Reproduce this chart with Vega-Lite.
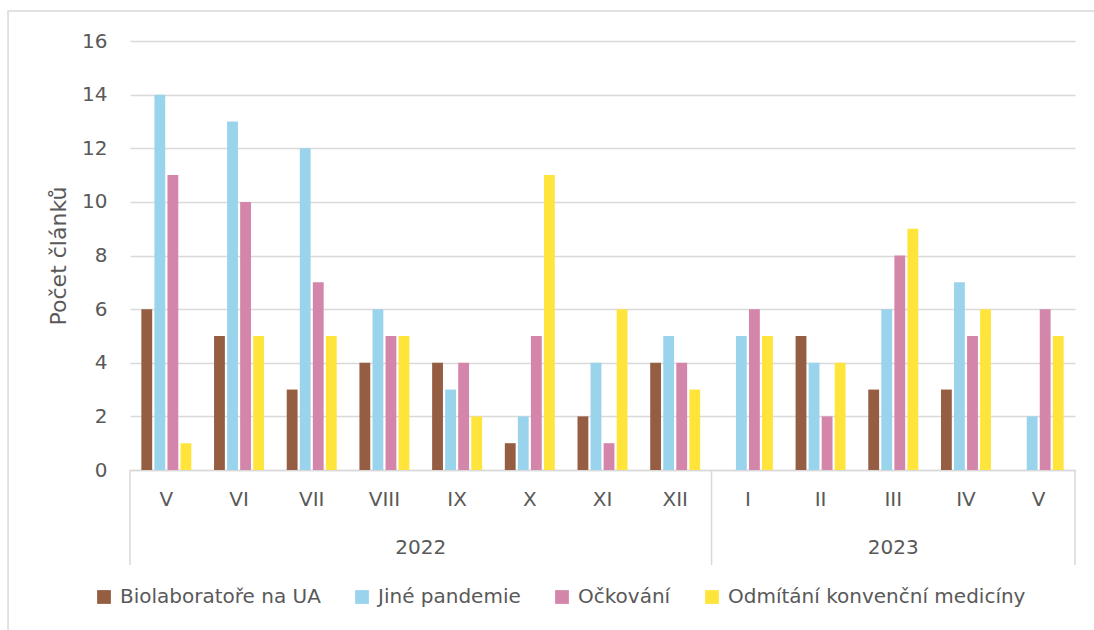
{
  "$schema": "https://vega.github.io/schema/vega-lite/v6.json",
  "autosize": "none",
  "width": 945,
  "height": 429,
  "padding": {"left": 130, "top": 41, "right": 19, "bottom": 160},
  "background": "white",
  "config": {
    "font": "DejaVu Sans",
    "view": {"stroke": null}
  },
  "layer": [
    {
      "data": {
        "values": [
          {"key": "2022-V", "series": "Biolaboratoře na UA", "value": 6},
          {"key": "2022-V", "series": "Jiné pandemie", "value": 14},
          {"key": "2022-V", "series": "Očkování", "value": 11},
          {"key": "2022-V", "series": "Odmítání konvenční medicíny", "value": 1},
          {"key": "2022-VI", "series": "Biolaboratoře na UA", "value": 5},
          {"key": "2022-VI", "series": "Jiné pandemie", "value": 13},
          {"key": "2022-VI", "series": "Očkování", "value": 10},
          {"key": "2022-VI", "series": "Odmítání konvenční medicíny", "value": 5},
          {"key": "2022-VII", "series": "Biolaboratoře na UA", "value": 3},
          {"key": "2022-VII", "series": "Jiné pandemie", "value": 12},
          {"key": "2022-VII", "series": "Očkování", "value": 7},
          {"key": "2022-VII", "series": "Odmítání konvenční medicíny", "value": 5},
          {"key": "2022-VIII", "series": "Biolaboratoře na UA", "value": 4},
          {"key": "2022-VIII", "series": "Jiné pandemie", "value": 6},
          {"key": "2022-VIII", "series": "Očkování", "value": 5},
          {"key": "2022-VIII", "series": "Odmítání konvenční medicíny", "value": 5},
          {"key": "2022-IX", "series": "Biolaboratoře na UA", "value": 4},
          {"key": "2022-IX", "series": "Jiné pandemie", "value": 3},
          {"key": "2022-IX", "series": "Očkování", "value": 4},
          {"key": "2022-IX", "series": "Odmítání konvenční medicíny", "value": 2},
          {"key": "2022-X", "series": "Biolaboratoře na UA", "value": 1},
          {"key": "2022-X", "series": "Jiné pandemie", "value": 2},
          {"key": "2022-X", "series": "Očkování", "value": 5},
          {"key": "2022-X", "series": "Odmítání konvenční medicíny", "value": 11},
          {"key": "2022-XI", "series": "Biolaboratoře na UA", "value": 2},
          {"key": "2022-XI", "series": "Jiné pandemie", "value": 4},
          {"key": "2022-XI", "series": "Očkování", "value": 1},
          {"key": "2022-XI", "series": "Odmítání konvenční medicíny", "value": 6},
          {"key": "2022-XII", "series": "Biolaboratoře na UA", "value": 4},
          {"key": "2022-XII", "series": "Jiné pandemie", "value": 5},
          {"key": "2022-XII", "series": "Očkování", "value": 4},
          {"key": "2022-XII", "series": "Odmítání konvenční medicíny", "value": 3},
          {"key": "2023-I", "series": "Biolaboratoře na UA", "value": 0},
          {"key": "2023-I", "series": "Jiné pandemie", "value": 5},
          {"key": "2023-I", "series": "Očkování", "value": 6},
          {"key": "2023-I", "series": "Odmítání konvenční medicíny", "value": 5},
          {"key": "2023-II", "series": "Biolaboratoře na UA", "value": 5},
          {"key": "2023-II", "series": "Jiné pandemie", "value": 4},
          {"key": "2023-II", "series": "Očkování", "value": 2},
          {"key": "2023-II", "series": "Odmítání konvenční medicíny", "value": 4},
          {"key": "2023-III", "series": "Biolaboratoře na UA", "value": 3},
          {"key": "2023-III", "series": "Jiné pandemie", "value": 6},
          {"key": "2023-III", "series": "Očkování", "value": 8},
          {"key": "2023-III", "series": "Odmítání konvenční medicíny", "value": 9},
          {"key": "2023-IV", "series": "Biolaboratoře na UA", "value": 3},
          {"key": "2023-IV", "series": "Jiné pandemie", "value": 7},
          {"key": "2023-IV", "series": "Očkování", "value": 5},
          {"key": "2023-IV", "series": "Odmítání konvenční medicíny", "value": 6},
          {"key": "2023-V", "series": "Biolaboratoře na UA", "value": 0},
          {"key": "2023-V", "series": "Jiné pandemie", "value": 2},
          {"key": "2023-V", "series": "Očkování", "value": 6},
          {"key": "2023-V", "series": "Odmítání konvenční medicíny", "value": 5}
        ]
      },
      "mark": {"type": "bar"},
      "encoding": {
        "x": {
          "field": "key",
          "type": "nominal",
          "scale": {
            "domain": ["2022-V", "2022-VI", "2022-VII", "2022-VIII", "2022-IX", "2022-X", "2022-XI", "2022-XII", "2023-I", "2023-II", "2023-III", "2023-IV", "2023-V"],
            "paddingInner": 0,
            "paddingOuter": 0
          },
          "axis": {
            "title": null,
            "bandPosition": 0.5,
            "labelAngle": 0,
            "labelExpr": "split(datum.label, '-')[1]",
            "labelFont": "DejaVu Sans",
            "labelFontSize": 20,
            "labelColor": "#595959",
            "ticks": false,
            "domainColor": "#D9D9D9",
            "domainWidth": 1.5,
            "labelPadding": 19,
            "grid": false
          }
        },
        "y": {
          "field": "value",
          "type": "quantitative",
          "scale": {"domain": [0, 16], "nice": false},
          "axis": {
            "title": "Počet článků",
            "titleFont": "DejaVu Sans",
            "titleFontSize": 22,
            "titleFontWeight": "normal",
            "titleColor": "#595959",
            "titlePadding": 11,
            "labelFont": "DejaVu Sans",
            "labelFontSize": 20,
            "labelColor": "#595959",
            "values": [0, 2, 4, 6, 8, 10, 12, 14, 16],
            "domain": false,
            "ticks": false,
            "labelPadding": 23,
            "gridColor": "#D9D9D9",
            "gridWidth": 1.5
          }
        },
        "xOffset": {
          "field": "series",
          "type": "nominal",
          "scale": {"paddingInner": 0.17, "paddingOuter": 0.87, "domain": ["Biolaboratoře na UA", "Jiné pandemie", "Očkování", "Odmítání konvenční medicíny"]}
        },
        "color": {
          "field": "series",
          "type": "nominal",
          "scale": {
            "domain": ["Biolaboratoře na UA", "Jiné pandemie", "Očkování", "Odmítání konvenční medicíny"],
            "range": ["#955E42", "#9AD4EC", "#D486AA", "#FFE43C"]
          },
          "legend": {
            "title": null,
            "orient": "none",
            "legendX": -36,
            "legendY": 546,
            "direction": "horizontal",
            "symbolType": "square",
            "symbolSize": 190,
            "symbolStrokeWidth": 0,
            "labelFont": "DejaVu Sans",
            "labelFontSize": 20,
            "labelColor": "#595959",
            "labelLimit": 0,
            "labelOffset": 6,
            "columnPadding": 31,
            "padding": 0
          }
        }
      }
    },
    {
      "data": {"values": [{"pos": "2022-V"}, {"pos": "2023-I"}]},
      "mark": {"type": "rule", "color": "#D9D9D9", "strokeWidth": 1.5},
      "encoding": {
        "x": {"field": "pos", "type": "nominal", "bandPosition": 0},
        "y": {"datum": 0},
        "y2": {"datum": -3.54}
      }
    },
    {
      "data": {"values": [{"pos": "2023-V"}]},
      "mark": {"type": "rule", "color": "#D9D9D9", "strokeWidth": 1.5},
      "encoding": {
        "x": {"field": "pos", "type": "nominal", "bandPosition": 1},
        "y": {"datum": 0},
        "y2": {"datum": -3.54}
      }
    },
    {
      "data": {"values": [{"year": "2022", "pos": "2022-IX"}]},
      "mark": {"type": "text", "font": "DejaVu Sans", "fontSize": 20, "color": "#595959", "baseline": "middle", "align": "center"},
      "encoding": {
        "x": {"field": "pos", "type": "nominal", "bandPosition": 0},
        "y": {"datum": -2.91},
        "text": {"field": "year"}
      }
    },
    {
      "data": {"values": [{"year": "2023", "pos": "2023-III"}]},
      "mark": {"type": "text", "font": "DejaVu Sans", "fontSize": 20, "color": "#595959", "baseline": "middle", "align": "center"},
      "encoding": {
        "x": {"field": "pos", "type": "nominal", "bandPosition": 0.5},
        "y": {"datum": -2.91},
        "text": {"field": "year"}
      }
    },
    {
      "data": {"values": [{"left": "2022-V", "right": "2023-V"}]},
      "mark": {"type": "rect", "fill": null, "stroke": "#D9D9D9", "strokeWidth": 1.5},
      "encoding": {
        "x": {"field": "left", "type": "nominal", "bandPosition": -1.678},
        "x2": {"field": "right", "bandPosition": 1.6},
        "y": {"datum": 17.12},
        "y2": {"datum": -7}
      }
    }
  ]
}
